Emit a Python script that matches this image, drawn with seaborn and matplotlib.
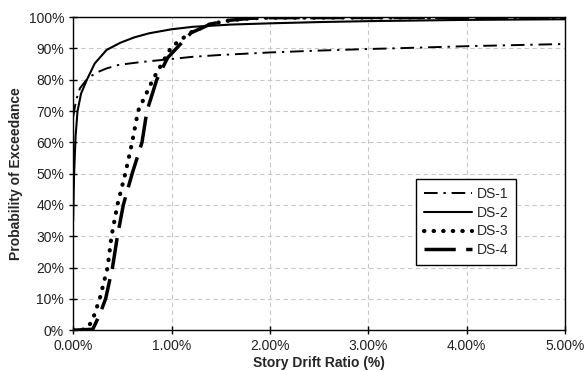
import numpy as np
import pandas as pd
import seaborn as sns
import matplotlib.pyplot as plt
from matplotlib.ticker import FuncFormatter, MultipleLocator

# == Data (drift ratio in %, probability in %) == #

ds1_x = [0.0, 0.03, 0.07, 0.15, 0.24, 0.34, 0.46, 0.58, 0.71, 1.0, 1.21, 1.5, 2.0, 2.5, 3.0, 3.25, 4.0, 5.0]
ds1_y = [68.0, 73.5, 77.3, 80.5, 82.3, 83.6, 84.7, 85.2, 85.7, 86.6, 87.3, 87.9, 88.7, 89.3, 89.8, 90.0, 90.7, 91.4]

ds2_x = [0.0, 0.005, 0.01, 0.025, 0.045, 0.08, 0.14, 0.22, 0.34, 0.48, 0.62, 0.77, 1.0,
         1.22, 1.6, 2.0, 2.5, 3.0, 4.0, 5.0]
ds2_y = [35.0, 43.0, 50.0, 62.0, 70.0, 75.5, 80.0, 85.2, 89.5, 91.8, 93.5, 94.8, 96.1,
         96.9, 97.6, 98.0, 98.4, 98.7, 99.1, 99.3]

ds3_x = [0.0, 0.1, 0.15, 0.2, 0.27, 0.35, 0.39, 0.45, 0.53, 0.6, 0.66, 0.81, 1.0, 1.19, 1.4, 1.6, 1.8, 2.0, 5.0]
ds3_y = [0.0, 0.2, 0.8, 3.5, 10.0, 20.0, 30.0, 40.0, 50.0, 60.0, 70.0, 80.0, 90.5, 95.0, 97.8, 99.0, 99.6, 99.8, 100.0]

ds4_x = [0.0, 0.2, 0.27, 0.33, 0.40, 0.45, 0.51, 0.6, 0.70, 0.75, 0.85, 0.96, 1.2, 1.4, 1.6, 1.8, 2.0, 5.0]
ds4_y = [0.0, 0.3, 5.0, 10.0, 20.0, 30.0, 40.0, 50.0, 60.0, 70.0, 80.0, 87.0, 95.0, 97.8, 99.0, 99.6, 99.8, 100.0]

labels = ['DS-1', 'DS-2', 'DS-3', 'DS-4']

sns.set_style('white')
plt.rcParams['font.family'] = ['Liberation Sans', 'DejaVu Sans']

fig = plt.figure(figsize=(5.85, 3.71), dpi=100)
ax = fig.add_axes([0.125, 0.11, 0.841, 0.844])

dfs = []
for lab, xs, ys in zip(labels, [ds1_x, ds2_x, ds3_x, ds4_x], [ds1_y, ds2_y, ds3_y, ds4_y]):
    dfs.append(pd.DataFrame({'drift': xs, 'prob': ys, 'DS': lab}))
df = pd.concat(dfs, ignore_index=True)

styles = {
    'DS-1': dict(lw=1.4, dashes=(7, 3, 1.2, 3)),
    'DS-2': dict(lw=1.5, dashes=()),
    'DS-3': dict(lw=3.0, dashes=(0.1, 2.2)),
    'DS-4': dict(lw=2.5, dashes=(9, 3)),
}

for lab in labels:
    sub = df[df['DS'] == lab]
    st = styles[lab]
    sns.lineplot(data=sub, x='drift', y='prob', ax=ax, color='black',
                 lw=st['lw'], label=lab, sort=False, estimator=None)
    l = ax.lines[-1]
    if st['dashes']:
        l.set_dashes(st['dashes'])
    if lab == 'DS-3':
        l.set_dash_capstyle('round')

ax.set_xlim(0, 5)
ax.set_ylim(0, 100)
ax.xaxis.set_major_locator(MultipleLocator(1))
ax.yaxis.set_major_locator(MultipleLocator(10))
ax.xaxis.set_major_formatter(FuncFormatter(lambda v, p: f'{v:.2f}%'))
ax.yaxis.set_major_formatter(FuncFormatter(lambda v, p: f'{v:.0f}%'))
ax.grid(True, color='#c8c8c8', linestyle=(0, (4, 3)), lw=0.8)
ax.tick_params(axis='both', direction='inout', length=6, width=1, colors='black',
               labelsize=10, bottom=True, left=True, labelcolor='#222222')
for s in ax.spines.values():
    s.set_color('black')
    s.set_linewidth(1.0)

ax.set_xlabel('Story Drift Ratio (%)', fontsize=10, fontweight='bold', labelpad=2)
ax.set_ylabel('Probability of Exceedance', fontsize=10, fontweight='bold', labelpad=4)

leg = ax.legend(loc='upper left', bbox_to_anchor=(0.683, 0.505), frameon=True, fancybox=False,
                edgecolor='black', framealpha=1, fontsize=10, handlelength=3.5,
                handletextpad=0.3, labelspacing=0.35, borderpad=0.55)
leg.get_frame().set_linewidth(1.0)

fig.savefig('out.png', dpi=100)
